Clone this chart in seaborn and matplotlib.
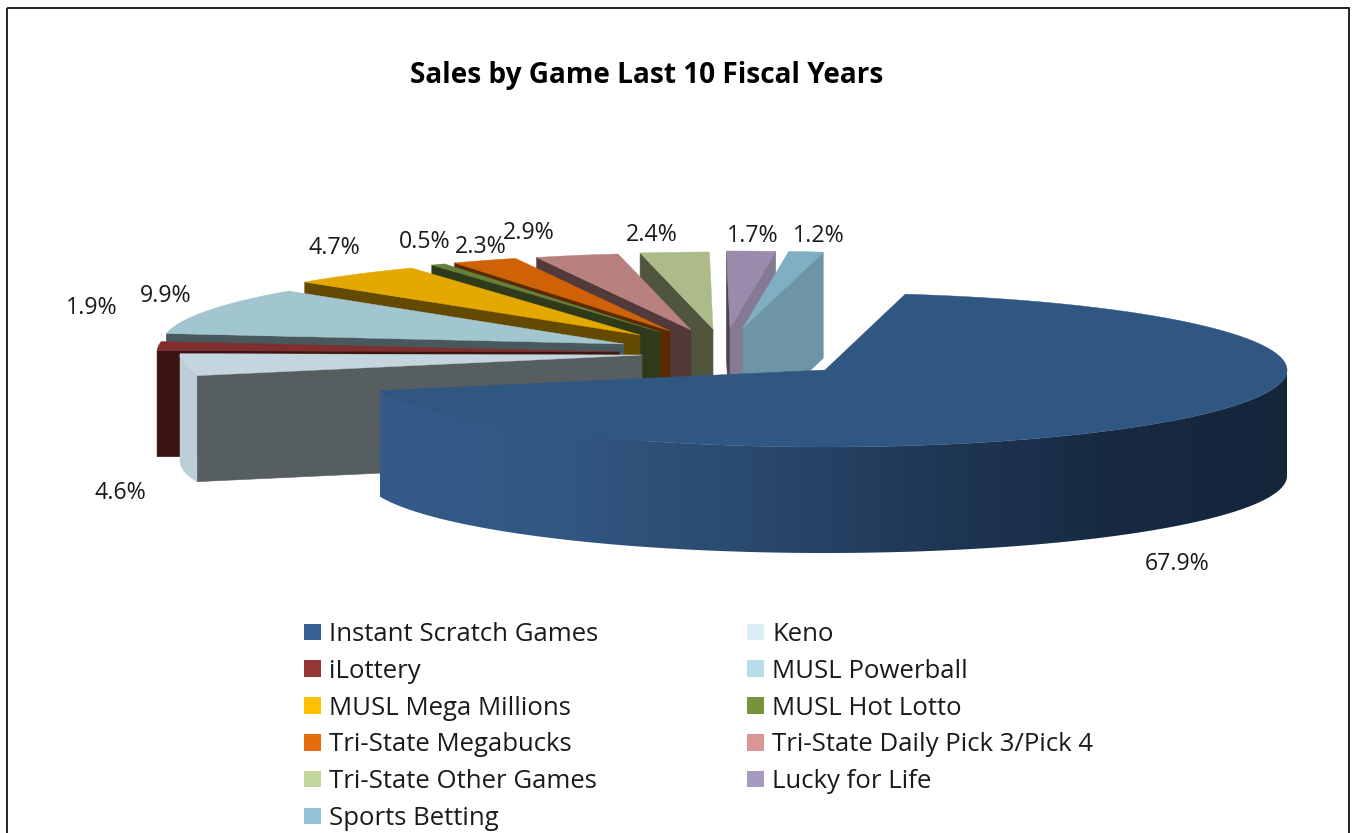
import numpy as np
import matplotlib
matplotlib.use("Agg")
import matplotlib.pyplot as plt
from matplotlib.patches import Polygon, Patch, Rectangle
import seaborn as sns

# ---------- data ----------
games = ["Instant Scratch Games", "Keno", "iLottery", "MUSL Powerball", "MUSL Mega Millions",
         "MUSL Hot Lotto", "Tri-State Megabucks", "Tri-State Daily Pick 3/Pick 4",
         "Tri-State Other Games", "Lucky for Life", "Sports Betting"]
shares = [67.9, 4.6, 1.9, 9.9, 4.7, 0.5, 2.3, 2.9, 2.4, 1.7, 1.2]
title = "Sales by Game Last 10 Fiscal Years"

# ---------- styles / layout ----------
legend_colors = ["#366092", "#dbeef4", "#953735", "#b7dde8", "#ffc000", "#77933c",
                 "#e46c0a", "#d99694", "#c3d69b", "#a79bbd", "#93c3d5"]
top_colors = ["#305682", "#c5d5de", "#802e2e", "#a1c6cf", "#e3a900", "#65803a",
              "#cf6106", "#b98080", "#adbb8a", "#9a8aac", "#80afc2"]
start_face = ["#305682", "#565e60", "#3b1512", "#48595e", "#644a00", "#2f3a1a",
              "#5b2a02", "#533a3a", "#50563d", "#4a4450", "#6d95a5"]
end_face = ["#305682", "#565e60", "#3b1512", "#48595e", "#644a00", "#2f3a1a",
            "#5b2a02", "#533a3a", "#50563d", "#857a93", "#6d95a5"]
outer_side = ["#345a8a", "#bccfd9", "#3b1512", "#48595e", "#644a00", "#2f3a1a",
              "#5b2a02", "#533a3a", "#50563d", "#857a93", "#6d95a5"]
explode = [(103, 16), (-80, 1), (-103, -2), (-98, -10), (-82, -19), (-62, -22),
           (-52, -23), (-31, -24), (-9, -25), (8, -26), (21, -26)]
cx, cy = 722, 354
rx, ry, depth = 462, 77, 106
start_angle = 10.0
label_xy = [(1177, 564), (120, 493), (92, 308), (166, 296), (334, 248), (425, 242),
            (481, 247), (529, 233), (652, 235), (753, 236), (819, 236)]
side_stops = ["#345a8a", "#325781", "#2a4a6f", "#203856", "#172a42", "#15263b"]

sns.set_theme(style="white")
plt.rcParams["font.family"] = ["Open Sans", "DejaVu Sans"]
palette = sns.color_palette(legend_colors)
side_cmap = sns.blend_palette(side_stops, as_cmap=True)

fig = plt.figure(figsize=(13.52, 8.33), dpi=100, facecolor="white")
ax = fig.add_axes([0, 0, 1, 1])
ax.set_xlim(0, 1352)
ax.set_ylim(833, 0)
ax.axis("off")


def rim(x0, y0, angles):
    t = np.radians(angles)
    return x0 + rx * np.sin(t), y0 - ry * np.cos(t)


def quad(xa, ya, xb, yb, color, z):
    ax.add_patch(Polygon([(xa, ya), (xb, yb), (xb, yb + depth), (xa, ya + depth)],
                         closed=True, facecolor=color, edgecolor=color, lw=0.4, zorder=z))


cum = start_angle + np.concatenate([[0], np.cumsum(shares)]) * 360.0 / sum(shares)
# paint from the back of the fan to the front, main slice last
order = [9, 10, 8, 7, 6, 5, 4, 3, 2, 1, 0]
for z, i in enumerate(order):
    a, b = cum[i], cum[i + 1]
    x0, y0 = cx + explode[i][0], cy + explode[i][1]
    base = z * 10 + 2
    sa, ea = np.sin(np.radians(a)), np.sin(np.radians(b))
    xa, ya = rim(x0, y0, np.array([a]))
    xb, yb = rim(x0, y0, np.array([b]))
    if sa < 0:
        quad(x0, y0, xa[0], ya[0], start_face[i], base)
    if ea > 0:
        quad(x0, y0, xb[0], yb[0], end_face[i], base)
    # outer cylinder wall, only where it faces the viewer (90 to 270 degrees)
    lo, hi = max(a, 90), min(b, 270)
    if hi > lo:
        ang = np.linspace(lo, hi, int((hi - lo) * 3) + 2)
        xs, ys = rim(x0, y0, ang)
        wall = np.column_stack([np.r_[xs, xs[::-1]], np.r_[ys, ys[::-1] + depth]])
        if i == 0:
            clip = Polygon(wall, closed=True, facecolor="none", edgecolor="none", transform=ax.transData)
            ax.add_patch(clip)
            img = ax.imshow(np.linspace(0, 1, 512)[None, :], cmap=side_cmap, aspect="auto",
                            extent=(xs.min(), xs.max(), ys.max() + depth, ys.min()), zorder=base + 1,
                            interpolation="bilinear")
            img.set_clip_path(clip)
        else:
            ax.add_patch(Polygon(wall, closed=True, facecolor=outer_side[i], edgecolor=outer_side[i],
                                 lw=0.3, zorder=base + 1))
    ang = np.linspace(a, b, max(int(b - a) * 3, 6))
    xs, ys = rim(x0, y0, ang)
    pts = np.column_stack([np.r_[x0, xs], np.r_[y0, ys]])
    ax.add_patch(Polygon(pts, closed=True, facecolor=top_colors[i], edgecolor=top_colors[i],
                         lw=0.3, zorder=base + 2))
ax.set_xlim(0, 1352)
ax.set_ylim(833, 0)

for v, (lx, ly) in zip(shares, label_xy):
    ax.text(lx, ly, f"{v:.1f}%", ha="center", va="center", fontsize=16.7, color="#1a1a1a", zorder=300)

ax.text(647, 75, title, ha="center", va="center", fontsize=20.2, fontweight="bold", color="black", zorder=300)

# frame of the chart area (cut by the image bottom)
ax.add_patch(Rectangle((6.5, 7.5), 1342.5, 900, fill=False, edgecolor="#222222", lw=1.4, zorder=400))

handles = [Patch(facecolor=c, edgecolor="none") for c in palette]
col_order = [0, 2, 4, 6, 8, 10, 1, 3, 5, 7, 9]
leg = ax.legend([handles[i] for i in col_order], [games[i] for i in col_order], ncol=2,
                loc="upper left", bbox_to_anchor=(304, 622), bbox_transform=ax.transData,
                frameon=False, fontsize=18.55, handlelength=0.66, handleheight=0.62, handletextpad=0.31,
                labelspacing=0.458, columnspacing=5.78, borderpad=0, borderaxespad=0, labelcolor="#1a1a1a")

fig.savefig("out.png", dpi=100, facecolor="white")
